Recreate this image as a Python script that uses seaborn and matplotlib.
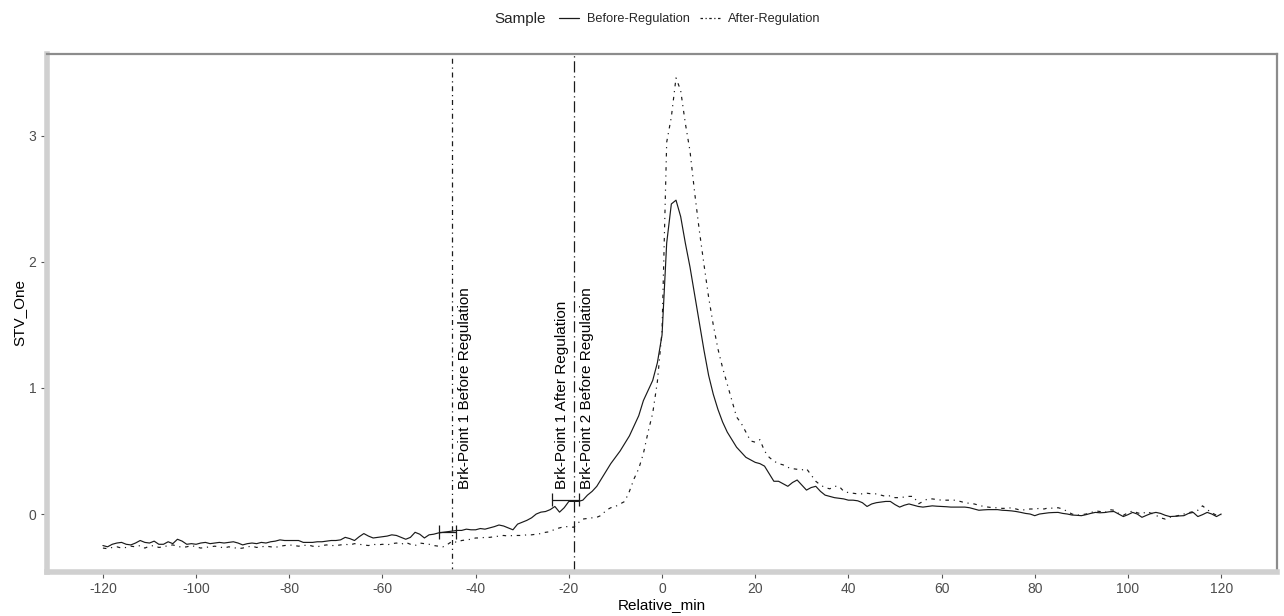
import numpy as np
import pandas as pd
import matplotlib
matplotlib.use('Agg')
import matplotlib.pyplot as plt
from matplotlib.lines import Line2D
import seaborn as sns

sns.set_style('white')
plt.rcParams['font.family'] = ['Liberation Sans', 'DejaVu Sans']
plt.rcParams['axes.unicode_minus'] = False

# minutes relative to the event
relative_min = list(range(-120, 121))

before_reg = [
    -0.25, -0.26, -0.24, -0.23, -0.225, -0.24, -0.245, -0.23, -0.21, -0.225,   # -120..-111
    -0.23, -0.215, -0.24, -0.24, -0.22, -0.235, -0.20, -0.215, -0.24, -0.235,  # -110..-101
    -0.24, -0.23, -0.225, -0.235, -0.23, -0.225, -0.23, -0.225, -0.22, -0.23,  # -100..-91
    -0.245, -0.235, -0.23, -0.235, -0.225, -0.23, -0.22, -0.215, -0.205, -0.21, # -90..-81
    -0.21, -0.21, -0.21, -0.225, -0.225, -0.225, -0.22, -0.22, -0.215, -0.21,  # -80..-71
    -0.21, -0.205, -0.185, -0.195, -0.21, -0.18, -0.155, -0.175, -0.19, -0.185, # -70..-61
    -0.18, -0.175, -0.165, -0.17, -0.185, -0.20, -0.185, -0.145, -0.16, -0.19, # -60..-51
    -0.165, -0.16, -0.15, -0.145, -0.14, -0.135, -0.13, -0.13, -0.12, -0.125,  # -50..-41
    -0.125, -0.115, -0.12, -0.11, -0.10, -0.087, -0.095, -0.11, -0.125, -0.08, # -40..-31
    -0.065, -0.05, -0.03, 0.0, 0.015, 0.02, 0.035, 0.06, 0.015, 0.05,          # -30..-21
    0.10, 0.10, 0.10, 0.11, 0.15, 0.18, 0.22, 0.28, 0.34, 0.40,                # -20..-11
    0.45, 0.50, 0.56, 0.62, 0.70, 0.78, 0.90, 0.98, 1.06, 1.20,                # -10..-1
    1.42, 2.15, 2.46, 2.49, 2.36, 2.15, 1.96, 1.74, 1.52, 1.30,                # 0..9
    1.10, 0.95, 0.83, 0.73, 0.65, 0.59, 0.53, 0.49, 0.45, 0.43,                # 10..19
    0.41, 0.40, 0.38, 0.32, 0.26, 0.26, 0.24, 0.22, 0.25, 0.27,                # 20..29
    0.23, 0.19, 0.21, 0.22, 0.18, 0.15, 0.14, 0.13, 0.125, 0.12,               # 30..39
    0.11, 0.11, 0.105, 0.09, 0.06, 0.08, 0.09, 0.095, 0.10, 0.10,              # 40..49
    0.075, 0.055, 0.07, 0.08, 0.07, 0.06, 0.055, 0.06, 0.065, 0.062,           # 50..59
    0.06, 0.058, 0.055, 0.055, 0.055, 0.055, 0.05, 0.04, 0.03, 0.033,          # 60..69
    0.035, 0.035, 0.035, 0.03, 0.028, 0.025, 0.02, 0.013, 0.005, 0.0,          # 70..79
    -0.013, 0.0, 0.005, 0.01, 0.012, 0.013, 0.005, 0.0, -0.008, -0.01,         # 80..89
    -0.013, -0.005, 0.005, 0.013, 0.01, 0.012, 0.018, 0.02, 0.0, -0.02,        # 90..99
    -0.005, 0.013, 0.0, -0.026, -0.01, 0.005, 0.013, 0.005, -0.01, -0.02,      # 100..109
    -0.018, -0.015, -0.013, 0.005, 0.013, -0.02, -0.005, 0.013, 0.0, -0.02,    # 110..119
    0.0,                                                                       # 120
]

after_reg = [
    -0.27, -0.275, -0.265, -0.26, -0.27, -0.265, -0.255, -0.26, -0.25, -0.27,  # -120..-111
    -0.255, -0.25, -0.265, -0.26, -0.25, -0.245, -0.255, -0.265, -0.26, -0.25, # -110..-101
    -0.26, -0.27, -0.265, -0.26, -0.255, -0.26, -0.27, -0.26, -0.265, -0.275,  # -100..-91
    -0.27, -0.26, -0.255, -0.265, -0.26, -0.255, -0.26, -0.265, -0.255, -0.25, # -90..-81
    -0.245, -0.25, -0.255, -0.25, -0.245, -0.255, -0.26, -0.25, -0.245, -0.25, # -80..-71
    -0.25, -0.245, -0.24, -0.245, -0.235, -0.24, -0.245, -0.25, -0.24, -0.245, # -70..-61
    -0.24, -0.245, -0.235, -0.23, -0.24, -0.225, -0.24, -0.25, -0.23, -0.235,  # -60..-51
    -0.24, -0.25, -0.255, -0.26, -0.24, -0.215, -0.225, -0.21, -0.205, -0.20,  # -50..-41
    -0.19, -0.19, -0.185, -0.185, -0.18, -0.175, -0.17, -0.175, -0.17, -0.17,  # -40..-31
    -0.17, -0.165, -0.165, -0.16, -0.155, -0.145, -0.14, -0.12, -0.11, -0.10,  # -30..-21
    -0.10, -0.105, -0.07, -0.04, -0.035, -0.03, -0.026, -0.01, 0.03, 0.05,     # -20..-11
    0.06, 0.08, 0.10, 0.18, 0.28, 0.36, 0.48, 0.65, 0.80, 1.05,                # -10..-1
    1.45, 2.95, 3.15, 3.46, 3.36, 3.10, 2.88, 2.55, 2.25, 1.98,                # 0..9
    1.72, 1.50, 1.31, 1.16, 1.03, 0.90, 0.77, 0.72, 0.65, 0.58,                # 10..19
    0.57, 0.59, 0.50, 0.45, 0.42, 0.40, 0.39, 0.37, 0.36, 0.355,               # 20..29
    0.35, 0.36, 0.31, 0.26, 0.23, 0.21, 0.20, 0.22, 0.22, 0.18,                # 30..39
    0.17, 0.165, 0.16, 0.16, 0.165, 0.16, 0.16, 0.15, 0.14, 0.145,             # 40..49
    0.13, 0.13, 0.135, 0.14, 0.14, 0.08, 0.10, 0.12, 0.12, 0.115,              # 50..59
    0.11, 0.11, 0.11, 0.11, 0.10, 0.09, 0.085, 0.08, 0.07, 0.06,               # 60..69
    0.055, 0.05, 0.05, 0.045, 0.045, 0.05, 0.04, 0.03, 0.035, 0.04,            # 70..79
    0.04, 0.045, 0.04, 0.05, 0.045, 0.05, 0.04, 0.02, 0.0, -0.01,              # 80..89
    -0.005, 0.0, 0.01, 0.025, 0.02, 0.01, 0.035, 0.03, 0.005, -0.01,           # 90..99
    0.01, 0.025, 0.01, 0.0, 0.02, 0.005, -0.01, -0.03, -0.04, -0.025,          # 100..109
    -0.02, -0.01, 0.0, 0.01, 0.02, 0.03, 0.065, 0.035, 0.01, -0.01,            # 110..119
    -0.005,                                                                    # 120
]

# breakpoints (vertical lines) and their labels
bp_x = [-45, -19]
bp_labels = ['Brk-Point 1 Before Regulation', 'Brk-Point 1 After Regulation', 'Brk-Point 2 Before Regulation']
bp_label_x = [-42.2, -21.4, -16.0]

# breakpoint confidence intervals on the before curve
ci_y = [-0.143, 0.115]
ci_lo = [-47.9, -23.7]
ci_hi = [-44.3, -17.9]

df = pd.DataFrame({
    'Relative_min': relative_min * 2,
    'STV_One': before_reg + after_reg,
    'Sample': ['Before-Regulation'] * len(before_reg) + ['After-Regulation'] * len(after_reg),
})

fig = plt.figure(figsize=(12.84, 6.16), dpi=100)
ax = fig.add_axes([0.0366, 0.0714, 0.958, 0.841])

dash_style = {'Before-Regulation': '', 'After-Regulation': (3, 4, 1, 4)}
sns.lineplot(data=df, x='Relative_min', y='STV_One', style='Sample', dashes=dash_style,
             color='#1a1a1a', linewidth=0.85, legend=False, ax=ax)

ax.axvline(bp_x[0], color='#1a1a1a', lw=0.9, linestyle=(0, (4, 3, 1, 3)))
ax.axvline(bp_x[1], color='#1a1a1a', lw=0.9, linestyle=(0, (9, 3, 1, 3)))

for lo, hi, yy in zip(ci_lo, ci_hi, ci_y):
    ax.hlines(yy, lo, hi, color='#1a1a1a', lw=0.9)
    ax.vlines([lo, hi], yy - 0.055, yy + 0.055, color='#1a1a1a', lw=0.9)

for lx, lab in zip(bp_label_x, bp_labels):
    ax.text(lx, 0.2, lab, rotation=90, ha='center', va='bottom', fontsize=11, color='black')

ax.set_xlim(-132, 132)
ax.set_ylim(-0.46, 3.65)
ax.set_xticks(range(-120, 121, 20))
ax.set_yticks([0, 1, 2, 3])
ax.tick_params(axis='both', which='both', length=4, width=0.8, color='#555555',
               labelcolor='#4d4d4d', labelsize=10, direction='out', bottom=True, left=True)
ax.set_xlabel('Relative_min', fontsize=11, color='black', labelpad=1)
ax.set_ylabel('STV_One', fontsize=11, color='black', labelpad=2)

for side in ['left', 'bottom']:
    ax.spines[side].set_color('#d0d0d0')
    ax.spines[side].set_linewidth(4)
for side in ['top', 'right']:
    ax.spines[side].set_color('#8c8c8c')
    ax.spines[side].set_linewidth(1.6)

handles = [Line2D([0], [0], color='#1a1a1a', lw=0.9),
           Line2D([0], [0], color='#1a1a1a', lw=0.9, linestyle=(0, (2, 2, 1, 2)))]
fig.text(0.405, 0.969, 'Sample', fontsize=11, ha='center', va='center')
fig.legend(handles, ['Before-Regulation', 'After-Regulation'], loc='center',
           bbox_to_anchor=(0.537, 0.969), ncol=2, frameon=False, fontsize=9.2,
           handlelength=1.6, handletextpad=0.6, columnspacing=0.8)

fig.savefig('out.png', dpi=100)
